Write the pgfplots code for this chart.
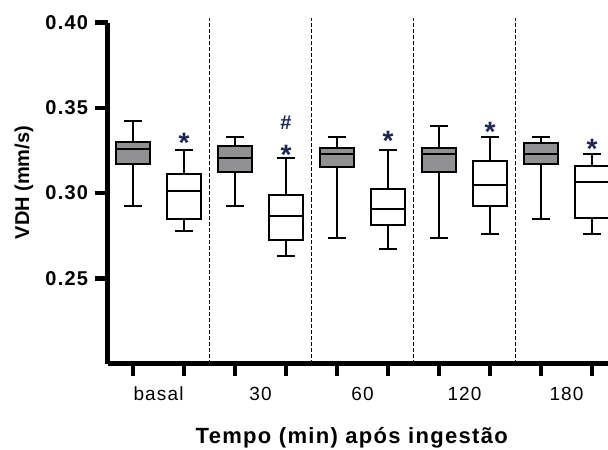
\documentclass[border=0pt]{standalone}
\usepackage{fontspec}
\setmainfont{Liberation Sans}
\usepackage{pgfplots}
\pgfplotsset{compat=1.18}
\usepgfplotslibrary{statistics}
\definecolor{boxgray}{RGB}{145,145,148}
\definecolor{starblue}{RGB}{28,38,85}
\begin{document}
\begin{tikzpicture}
\begin{axis}[
  name=ax,
  scale only axis,
  width=500.5pt, height=340.8pt,
  xmin=0.5, xmax=10.314, ymin=0.20, ymax=0.40,
  axis x line=bottom, axis y line=left,
  every outer x axis line/.append style={line width=5pt, -, black},
  every outer y axis line/.append style={line width=5pt, -, black},
  clip=false,
  xtick={1,2,3,4,5,6,7,8,9,10}, xticklabels={},
  extra x ticks={1.5,3.5,5.5,7.5,9.5},
  extra x tick labels={basal,30,60,120,180},
  extra x tick style={major tick length=0pt, major tick style={draw=none},
     tick label style={font=\fontsize{19}{19}\selectfont\addfontfeatures{LetterSpace=6}, yshift=-20pt}},
  ytick={0.25,0.30,0.35,0.40},
  yticklabels={0.25,0.30,0.35,0.40},
  yticklabel style={font=\bfseries\fontsize{20}{20}\selectfont\addfontfeatures{LetterSpace=6}, xshift=-4pt},
  tick align=outside,
  major tick length=12pt,
  major tick style={black, line width=4.5pt},
  every axis x label/.style={at={(rel axis cs:0.488,0)}, anchor=base, yshift=-80pt},
  every axis y label/.style={at={(rel axis cs:-0.167,0.531)}, rotate=90, anchor=center},
  xlabel={\bfseries\fontsize{22}{22}\selectfont\addfontfeatures{LetterSpace=6}Tempo (min) após ingestão},
  ylabel={\bfseries\fontsize{20}{20}\selectfont VDH (mm/s)},
  boxplot/draw direction=y,
]
% separators
\pgfplotsset{sep/.style={black, line width=1.5pt, dash pattern=on 4pt off 2pt}}
\addplot[sep] coordinates {(2.5,0.20) (2.5,0.403)};
\addplot[sep] coordinates {(4.5,0.20) (4.5,0.403)};
\addplot[sep] coordinates {(6.5,0.20) (6.5,0.403)};
\addplot[sep] coordinates {(8.5,0.20) (8.5,0.403)};
% boxes
\pgfplotsset{mybox/.style={draw=black, line width=2.2pt}}
\addplot[mybox, fill=boxgray, boxplot prepared={draw position=1, lower whisker=0.2926, lower quartile=0.3169, median=0.3257, upper quartile=0.3300, upper whisker=0.3421, box extend=0.667, whisker extend=0.35}] coordinates {};
\addplot[mybox, fill=white, boxplot prepared={draw position=2, lower whisker=0.2778, lower quartile=0.2848, median=0.3012, upper quartile=0.3110, upper whisker=0.3255, box extend=0.667, whisker extend=0.35}] coordinates {};
\addplot[mybox, fill=boxgray, boxplot prepared={draw position=3, lower whisker=0.2926, lower quartile=0.3126, median=0.3204, upper quartile=0.3276, upper whisker=0.3329, box extend=0.667, whisker extend=0.35}] coordinates {};
\addplot[mybox, fill=white, boxplot prepared={draw position=4, lower whisker=0.2633, lower quartile=0.2725, median=0.2866, upper quartile=0.2987, upper whisker=0.3204, box extend=0.667, whisker extend=0.35}] coordinates {};
\addplot[mybox, fill=boxgray, boxplot prepared={draw position=5, lower whisker=0.2738, lower quartile=0.3151, median=0.3229, upper quartile=0.3265, upper whisker=0.3327, box extend=0.667, whisker extend=0.35}] coordinates {};
\addplot[mybox, fill=white, boxplot prepared={draw position=6, lower whisker=0.2672, lower quartile=0.2811, median=0.2907, upper quartile=0.3022, upper whisker=0.3255, box extend=0.667, whisker extend=0.35}] coordinates {};
\addplot[mybox, fill=boxgray, boxplot prepared={draw position=7, lower whisker=0.2738, lower quartile=0.3126, median=0.3229, upper quartile=0.3265, upper whisker=0.3394, box extend=0.667, whisker extend=0.35}] coordinates {};
\addplot[mybox, fill=white, boxplot prepared={draw position=8, lower whisker=0.2760, lower quartile=0.2926, median=0.3048, upper quartile=0.3187, upper whisker=0.3327, box extend=0.667, whisker extend=0.35}] coordinates {};
\addplot[mybox, fill=boxgray, boxplot prepared={draw position=9, lower whisker=0.2848, lower quartile=0.3169, median=0.3229, upper quartile=0.3292, upper whisker=0.3327, box extend=0.667, whisker extend=0.35}] coordinates {};
\addplot[mybox, fill=white, boxplot prepared={draw position=10, lower whisker=0.2760, lower quartile=0.2856, median=0.3065, upper quartile=0.3161, upper whisker=0.3229, box extend=0.667, whisker extend=0.35}] coordinates {};
% significance marks
\addplot[only marks, mark=text, text mark={*}, text mark as node=true,
  text mark style={text=starblue, font=\bfseries\fontsize{28}{28}\selectfont, anchor=center, inner sep=0pt}]
  coordinates {(2,0.3293) (4,0.3223) (6,0.3305) (8,0.3358) (10,0.3260)};
\addplot[only marks, mark=text, text mark={\#}, text mark as node=true,
  text mark style={text=starblue, font=\bfseries\fontsize{20}{20}\selectfont, anchor=center, inner sep=0pt}]
  coordinates {(4,0.3416)};
\end{axis}
\pgfresetboundingbox
\path[use as bounding box] ([xshift=-107.5pt,yshift=-85.5pt]ax.south west) rectangle ([yshift=22.7pt]ax.north east);
\end{tikzpicture}
\end{document}
